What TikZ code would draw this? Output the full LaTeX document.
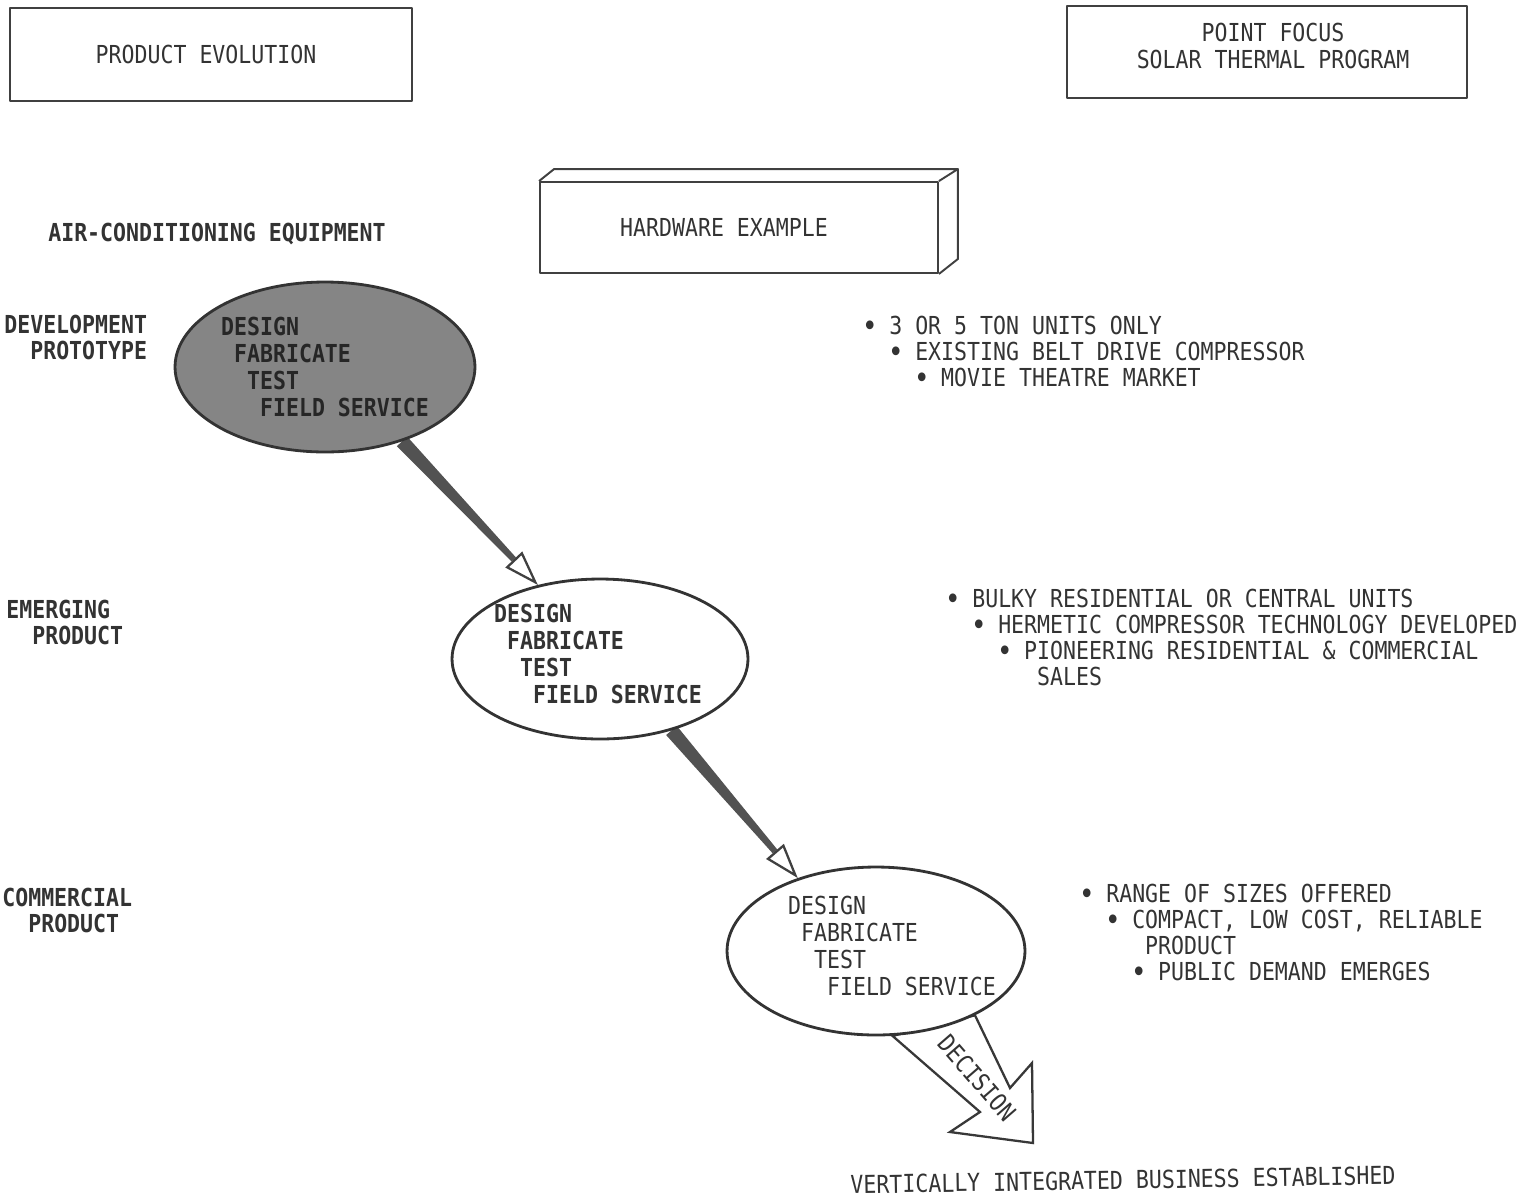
\documentclass[tikz,border=0pt]{standalone}
\usepackage{fontspec}
\setmainfont{DejaVu Sans Mono}[FakeStretch=0.87]
\usetikzlibrary{shapes.geometric,arrows.meta,calc,backgrounds}
\begin{document}
\begin{tikzpicture}[x=0.02cm, y=-0.02cm, font=\fontsize{14.1pt}{14.7pt}\selectfont, text=black!80, line join=round]
    \tikzset{box/.style={draw=black!75, line width=1.1pt, inner sep=0pt, align=center, font=\fontsize{14.1pt}{15.3pt}\selectfont},
        stage/.style={ellipse, draw=black!80, line width=1.6pt, fill=white, inner sep=0pt},
        stagetext/.style={align=left, inner sep=0pt, font=\fontsize{14.1pt}{15.4pt}\selectfont},
        boldtext/.style={font=\fontsize{14.1pt}{15.4pt}\selectfont\bfseries},
        lbl/.style={anchor=north west, align=left, inner sep=0pt, font=\fontsize{14.1pt}{14.7pt}\selectfont\bfseries},
        notes/.style={anchor=north west, align=left, inner sep=0pt},
        arrowshaft/.style={fill=black!68},
        headtip/.style={-{Triangle[open,length=20pt,width=13pt]}, line width=1.3pt, draw=black!75}}
    \useasboundingbox (0,0) rectangle (1523,1197);
    \node[box, minimum width=8.04cm, minimum height=1.86cm] (evo) at (211,54.5) {PRODUCT EVOLUTION\hspace*{0.2cm}};
    \node[box, minimum width=8.0cm, minimum height=1.84cm, text depth=0.24cm] (focus) at (1267,52) {\hspace*{0.24cm}POINT FOCUS\\\hspace*{0.24cm}SOLAR THERMAL PROGRAM};
    \node[box, minimum width=7.96cm, minimum height=1.82cm] (hw) at (739,227.5) {HARDWARE EXAMPLE\hspace*{0.6cm}};
    \draw[draw=black!75, line width=1.1pt] (hw.north west) -- ++(15,-12) -- ($(hw.north east)+(19,-12)$) -- (hw.north east);
    \draw[draw=black!75, line width=1.1pt] ($(hw.north east)+(19,-12)$) -- ($(hw.south east)+(19,-15)$) -- (hw.south east);
    \node[lbl, anchor=center] (air) at (217,234) {AIR-CONDITIONING EQUIPMENT};
    \node[lbl] (devlbl) at (4,315) {DEVELOPMENT\\\phantom{DE}PROTOTYPE};
    \node[lbl] (emglbl) at (6,600) {EMERGING\\\phantom{EM}PRODUCT};
    \node[lbl] (comlbl) at (2,888) {COMMERCIAL\\\phantom{CO}PRODUCT};
    \node[stage, fill=black!48, minimum width=6cm, minimum height=3.4cm] (dev) at (325,367) {};
    \node[stage, minimum width=5.92cm, minimum height=3.2cm] (emg) at (600,659) {};
    \node[stage, minimum width=5.96cm, minimum height=3.36cm] (com) at (876,951) {};
    \node[stagetext, boldtext, text=black!85] (devtext) at (325,367) {DESIGN\\\phantom{D}FABRICATE\\\phantom{DD}TEST\\\phantom{DDD}FIELD SERVICE};
    \node[stagetext, boldtext] (emgtext) at ($(emg.center)+(-2,-5)$) {DESIGN\\\phantom{D}FABRICATE\\\phantom{DD}TEST\\\phantom{DDD}FIELD SERVICE};
    \node[stagetext] (comtext) at ($(com.center)+(16,-5)$) {DESIGN\\\phantom{D}FABRICATE\\\phantom{DD}TEST\\\phantom{DDD}FIELD SERVICE};
    \node[notes] (hwnotes) at (863,316) {\textbf{•} 3 OR 5 TON UNITS ONLY\\\phantom{MM}\textbf{•} EXISTING BELT DRIVE COMPRESSOR\\\phantom{MMMM}\textbf{•} MOVIE THEATRE MARKET};
    \node[notes] (emgnotes) at (946,589) {\textbf{•} BULKY RESIDENTIAL OR CENTRAL UNITS\\\phantom{MM}\textbf{•} HERMETIC COMPRESSOR TECHNOLOGY DEVELOPED\\\phantom{MMMM}\textbf{•} PIONEERING RESIDENTIAL \& COMMERCIAL\\\phantom{MMMMMMM}SALES};
    \node[notes] (comnotes) at (1080,884) {\textbf{•} RANGE OF SIZES OFFERED\\\phantom{MM}\textbf{•} COMPACT, LOW COST, RELIABLE\\\phantom{MMMMM}PRODUCT\\\phantom{MMMM}\textbf{•} PUBLIC DEMAND EMERGES};
    \node[rotate=1] (biz) at (1123,1180) {VERTICALLY INTEGRATED BUSINESS ESTABLISHED};
    \coordinate (dtip) at (1033,1143);
    \begin{scope}[on background layer]
        \foreach \s/\e in {dev.-44/emg.130, emg.-45/com.137}{
            \coordinate (p) at (\s);
            \coordinate (q) at (\e);
            \coordinate (h) at ($(q)!20pt!(p)$);
            \fill[arrowshaft] ($(p)!4pt!90:(h)$) -- ($(h)!1.7pt!-90:(p)$) -- ($(h)!1.7pt!90:(p)$) -- ($(p)!4pt!-90:(h)$) -- cycle;
            \draw[headtip] (h) -- (q);
        }
        \draw[line width=1.3pt, draw=black!78, fill=white] (com.-79) -- (980,1112) -- (950,1132) -- (dtip) -- (1032,1063) -- (1010,1088) -- (com.-33) -- cycle;
    \end{scope}
    \node[rotate=-49] (dec) at (977,1078) {DECISION};
\end{tikzpicture}
\end{document}
